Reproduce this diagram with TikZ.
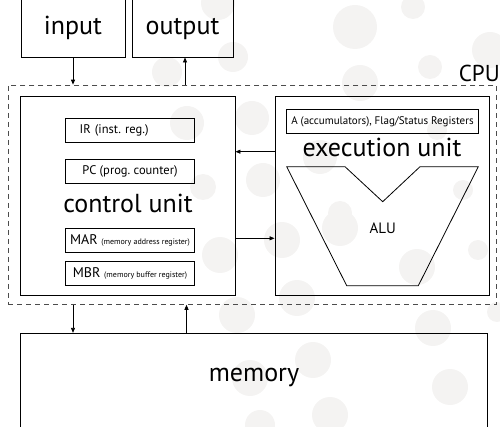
\documentclass[tikz,border=0pt]{standalone}
\usepackage{fontspec}
\setmainfont{PT Sans}
\usetikzlibrary{arrows.meta}
\definecolor{bgdot}{RGB}{244,243,242}
\frenchspacing

\begin{document}
\begin{tikzpicture}[x=1pt, y=-1pt,
	box/.style={draw, line width=0.9pt, inner sep=0pt},
	reg/.style={draw, line width=0.8pt, inner sep=0pt, minimum width=128.6pt, minimum height=23.8pt},
	arr/.style={line width=0.8pt, -{Triangle[length=5pt, width=4pt]}},
	bigtext/.style={font=\fontsize{26}{26}\selectfont},
	regtext/.style={font=\fontsize{12.5}{13}\selectfont}
]
	\useasboundingbox (0,0) rectangle (500,427);
	% background dots
	\foreach \cx/\cy/\r in {%
			218/3/17, 167/72/15, 233/57/15, 187/123/17, 203/187/13, 252/118/17, 263/180/17,
			355/27/22, 413/7/12, 490/50/18, 430/67/12, 360/83/18, 320/157/17, 437/130/10,
			463/190/10, 340/213/12, 220/255/18, 237/315/18, 250/378/18, 340/228/18,
			282/240/18, 417/267/18, 478/250/10, 297/298/18, 433/328/18, 497/312/10,
			313/360/18, 450/387/18, 330/415/18, 260/425/15%
	}{%
		\fill [bgdot] (\cx,\cy) circle (\r pt);
	}

	\node [box, minimum width=104pt, minimum height=60pt] (input) at (73,27) {};
	\node [bigtext, anchor=base] at (73,34.3) {input};
	\node [box, minimum width=101pt, minimum height=60pt] (output) at (182.5,27) {};
	\node [bigtext, anchor=base] at (182.5,34.3) {output};

	\node [draw, dashed, dash pattern=on 5pt off 4pt, draw=black!70, line width=0.8pt, minimum width=488.4pt, minimum height=219.3pt] (cpu) at (252.5,194.7) {};
	\node [font=\fontsize{23}{23}\selectfont, anchor=base east, inner sep=0pt] at (500,82) {CPU};

	% control unit
	\node [box, minimum width=214.3pt, minimum height=199pt] (control) at (127.85,195.5) {};
	\node [bigtext, anchor=base] at (128,213) {control unit};
	\node [reg, regtext, text width=100.6pt, inner xsep=14pt, align=left] (ir) at (130,130.8) {IR (inst. reg.)};
	\foreach \name/\ypos/\txt in {%
			pc/171.3/{PC (prog. counter)},
			mar/240.3/{\fontsize{14}{14}\selectfont MAR {\fontsize{8}{8}\selectfont (memory address register)}},
			mbr/273.8/{\fontsize{14}{14}\selectfont MBR {\fontsize{8}{8}\selectfont (memory buffer register)}}%
	}{%
		\node [reg, regtext] (\name) at (130,\ypos) {\txt};
	}

	% execution unit
	\node [box, minimum width=214.3pt, minimum height=199pt] (exec) at (382.15,195.5) {};
	\node [reg, font=\fontsize{11}{11}\selectfont, minimum width=191.6pt, minimum height=24pt] (acc) at (382.5,121.3) {A (accumulators), Flag/Status Registers};
	\node [bigtext, anchor=base] at (382,157) {execution unit};
	\draw [line width=0.8pt] (286.7,166.7) -- (345,166.7) -- (382.7,201.7) -- (420,166.7) -- (478.3,166.7) -- (418.3,285.7) -- (346.7,285.7) -- cycle;
	\node [font=\fontsize{15}{15}\selectfont, anchor=base] (alu) at (382.7,233.3) {ALU};

	\node [box, minimum width=466.6pt, minimum height=110pt] (memory) at (254,388.3) {};
	\node [bigtext, anchor=base] at (254,381.7) {memory};

	% connectors
	\draw [arr] (input.south) -- (input.south |- cpu.north);
	\draw [arr] ([xshift=2.5pt]output.south |- cpu.north) -- ([xshift=2.5pt]output.south);
	\draw [arr] ([yshift=43.8pt]exec.west) -- ([yshift=43.8pt]control.east);
	\draw [arr] ([yshift=-42.8pt]control.east) -- ([yshift=-42.8pt]exec.west);
	\draw [arr] (cpu.south -| input.south) -- (memory.north -| input.south);
	\draw [arr] ([xshift=4pt]memory.north -| output.south) -- ([xshift=4pt]cpu.south -| output.south);
\end{tikzpicture}
\end{document}
